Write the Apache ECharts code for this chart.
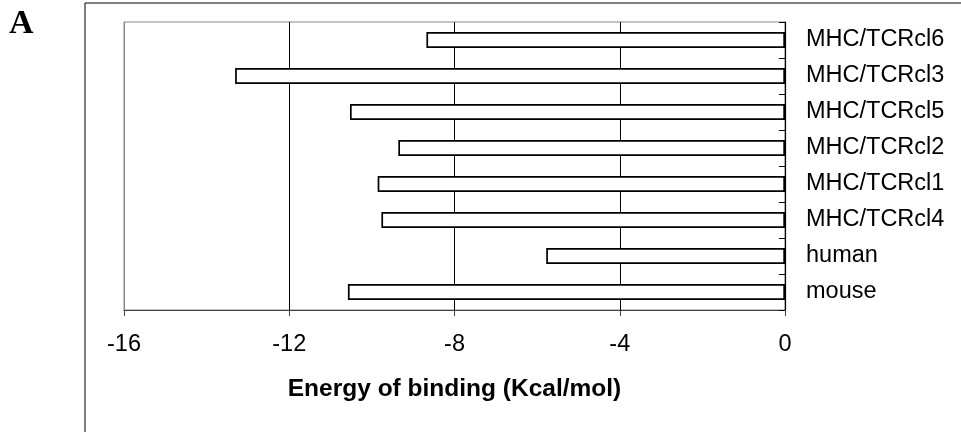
<!DOCTYPE html>
<html>
<head>
<meta charset="utf-8">
<script src="https://cdn.jsdelivr.net/npm/echarts@6/dist/echarts.min.js"></script>
<style>
html, body {margin: 0; padding: 0; background: #fff;}
#showcase {width: 961px; height: 432px;}
</style>
</head>
<body>
<div id="showcase"></div>
<script>
// categories bottom to top
var categories = ["mouse", "human", "MHC/TCRcl4", "MHC/TCRcl1", "MHC/TCRcl2", "MHC/TCRcl5", "MHC/TCRcl3", "MHC/TCRcl6"];
var energies = [-10.58, -5.78, -9.77, -9.86, -9.36, -10.53, -13.31, -8.68];
var xTicks = [-16, -12, -8, -4, 0];

var myChart = echarts.init(document.getElementById("showcase"));
var option = {
	backgroundColor: "#fff",
	animation: false,
	textStyle: {fontFamily: "Liberation Sans, Arial, sans-serif"},
	grid: {left: 124, top: 22, right: 176, bottom: 122, show: true, borderColor: "#888", borderWidth: 1},
	graphic: [{
		type: "rect",
		shape: {x: 85, y: 3, width: 900, height: 460},
		style: {fill: "none", stroke: "#000", lineWidth: 1},
		silent: true
	}, {
		type: "text",
		left: 9,
		top: 7,
		style: {text: "A", font: "bold 34px 'Liberation Serif', 'Times New Roman', serif", fill: "#000"}
	}],
	xAxis: {
		type: "value",
		min: xTicks[0],
		max: xTicks[xTicks.length - 1],
		interval: 4,
		position: "bottom",
		name: "Energy of binding (Kcal/mol)",
		nameLocation: "middle",
		nameGap: 67,
		nameTextStyle: {fontSize: 24.5, fontWeight: "bold", color: "#000"},
		axisLine: {show: true, lineStyle: {color: "#404040", width: 1.2}},
		axisTick: {show: true, length: 6, lineStyle: {color: "#404040"}},
		axisLabel: {fontSize: 23.5, color: "#000", margin: 23},
		splitLine: {show: true, lineStyle: {color: ["#888", "#000", "#000", "#000", "#000"], width: 1}}
	},
	yAxis: {
		type: "category",
		position: "right",
		data: categories,
		axisLine: {show: true, lineStyle: {color: "#000", width: 1.2}},
		axisTick: {show: true, inside: true, length: 6, lineStyle: {color: "#000"}},
		axisLabel: {fontSize: 23.5, color: "#000", margin: 21},
		splitLine: {show: false}
	},
	series: [{
		type: "bar",
		data: energies,
		barWidth: 16,
		itemStyle: {color: "#fff", borderColor: "#000", borderWidth: 1.7}
	}]
};
myChart.setOption(option);
</script>
</body>
</html>
